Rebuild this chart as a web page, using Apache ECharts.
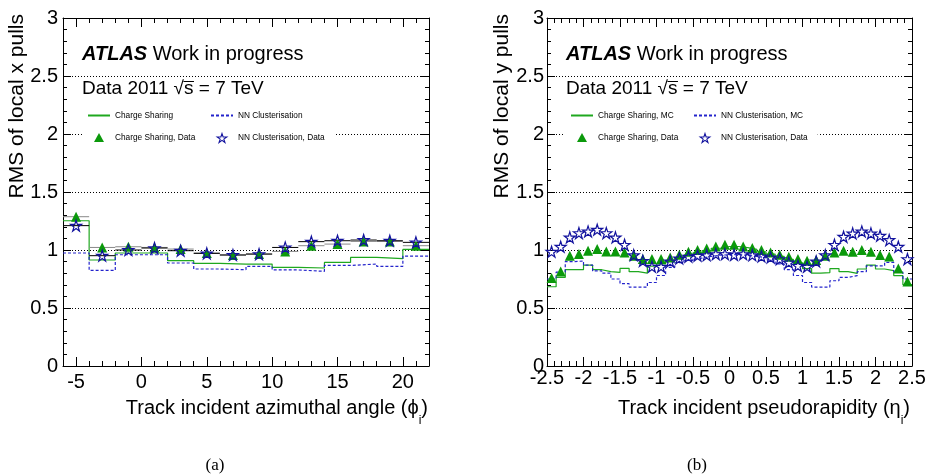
<!DOCTYPE html>
<html><head><meta charset="utf-8">
<script src="https://cdn.jsdelivr.net/npm/echarts@6/dist/echarts.min.js"></script>
<style>html,body{margin:0;padding:0;background:#fff;}#c{width:928px;height:476px;}</style>
</head><body><div id="c"></div>
<script>
// ---------- DATA ----------
// Panel (a): local x pulls vs track incident azimuthal angle
const phiCenters = [-5, -3, -1, 1, 3, 5, 7, 9, 11, 13, 15, 17, 19, 21];
const phiBinWidth = 2;
const phiMajorTicks = [-5, 0, 5, 10, 15, 20];
const phiCsMC   = [1.252, 0.914, 0.974, 0.974, 0.908, 0.885, 0.879, 0.879, 0.850, 0.845, 0.893, 0.936, 0.925, 1.005];
const phiNnMC   = [0.974, 0.824, 0.959, 0.959, 0.888, 0.836, 0.830, 0.859, 0.828, 0.816, 0.867, 0.879, 0.859, 0.948];
const phiCsData = [1.287, 1.022, 1.028, 1.022, 1.008, 0.974, 0.957, 0.965, 0.988, 1.037, 1.051, 1.074, 1.074, 1.037];
const phiNnData = [1.210, 0.951, 1.000, 1.017, 0.994, 0.971, 0.957, 0.965, 1.022, 1.072, 1.080, 1.086, 1.080, 1.066];

// Panel (b): local y pulls vs track incident pseudorapidity
const etaCenters = [-2.4375, -2.3125, -2.1875, -2.0625, -1.9375, -1.8125, -1.6875, -1.5625, -1.4375, -1.3125,
                    -1.1875, -1.0625, -0.9375, -0.8125, -0.6875, -0.5625, -0.4375, -0.3125, -0.1875, -0.0625,
                     0.0625,  0.1875,  0.3125,  0.4375,  0.5625,  0.6875,  0.8125,  0.9375,  1.0625,  1.1875,
                     1.3125,  1.4375,  1.5625,  1.6875,  1.8125,  1.9375,  2.0625,  2.1875,  2.3125,  2.4375];
const etaBinWidth = 0.125;
const etaCsMC = [0.683, 0.764, 0.830, 0.830, 0.870, 0.830, 0.813, 0.807, 0.842, 0.813,
                 0.801, 0.860, 0.880, 0.905, 0.930, 0.955, 0.975, 0.995, 1.015, 1.030,
                 1.030, 1.020, 1.005, 0.985, 0.965, 0.945, 0.920, 0.890, 0.840, 0.800,
                 0.805, 0.840, 0.813, 0.799, 0.836, 0.870, 0.836, 0.822, 0.779, 0.701];
const etaNnMC = [0.750, 0.810, 0.900, 0.905, 0.870, 0.820, 0.800, 0.750, 0.710, 0.680,
                 0.680, 0.720, 0.780, 0.850, 0.890, 0.910, 0.930, 0.945, 0.955, 0.960,
                 0.960, 0.955, 0.945, 0.935, 0.915, 0.880, 0.830, 0.780, 0.720, 0.680,
                 0.680, 0.735, 0.764, 0.779, 0.813, 0.864, 0.864, 0.893, 0.810, 0.750];
const etaCsData = [0.758, 0.815, 0.951, 0.965, 0.994, 1.008, 0.988, 0.988, 0.979, 0.951,
                   0.922, 0.922, 0.922, 0.936, 0.959, 0.985, 1.000, 1.014, 1.031, 1.045,
                   1.045, 1.031, 1.017, 1.000, 0.979, 0.959, 0.942, 0.922, 0.907, 0.913,
                   0.951, 0.979, 0.994, 0.985, 1.000, 0.985, 0.956, 0.945, 0.841, 0.729];
const etaNnData = [0.985, 1.028, 1.109, 1.146, 1.160, 1.175, 1.146, 1.109, 1.045, 0.956,
                   0.907, 0.856, 0.856, 0.902, 0.928, 0.942, 0.951, 0.956, 0.965, 0.965,
                   0.959, 0.965, 0.956, 0.945, 0.936, 0.922, 0.893, 0.864, 0.856, 0.902,
                   0.956, 1.045, 1.114, 1.143, 1.160, 1.143, 1.123, 1.086, 1.028, 0.922];

// ---------- STYLE ----------
const FONT = '"Liberation Sans", Arial, Helvetica, sans-serif';
const SERIF = '"Liberation Serif", "DejaVu Serif", serif';
const GREEN_LINE = '#1fa81f', GREEN_MK = '#0b990b', BLUE_MK = '#12129e', BLUE_LINE = '#2424cc';
const STAR = 'path://M50,2 L61.2,36.2 L97.6,36.2 L68.2,57.4 L79.4,91.6 L50,70.4 L20.6,91.6 L31.8,57.4 L2.4,36.2 L38.8,36.2 Z';
const TRI_ICON = 'path://M50,0 L100,90 L0,90 Z';

const mctx = document.createElement('canvas').getContext('2d');
function tw(text, font) { mctx.font = font; return mctx.measureText(text).width; }

function histPoints(centers, width, vals) {
  const pts = centers.map((c, i) => [c - width / 2, vals[i]]);
  pts.push([centers[centers.length - 1] + width / 2, vals[vals.length - 1]]);
  return pts;
}
function pairs(centers, vals) { return centers.map((c, i) => [c, vals[i]]); }

function stepSeries(name, xi, yi, centers, width, vals, color, dashed) {
  return { type: 'line', name, xAxisIndex: xi, yAxisIndex: yi, step: 'end', symbol: 'none',
    data: histPoints(centers, width, vals), z: 2, silent: true,
    lineStyle: { color, width: 1.2, type: dashed ? [3, 2] : 'solid', opacity: 1 },
    itemStyle: { color, opacity: 0 } };
}
function barSeries(xi, yi, centers, width, vals, color) {
  return { type: 'custom', name: '_bars', xAxisIndex: xi, yAxisIndex: yi, silent: true, z: 3,
    data: pairs(centers, vals),
    renderItem: (params, api) => {
      const x = api.value(0), v = api.value(1);
      const a = api.coord([x - width / 2, v]), b = api.coord([x + width / 2, v]);
      return { type: 'line', shape: { x1: a[0], y1: a[1], x2: b[0], y2: b[1] }, style: { stroke: color, lineWidth: 1 } };
    } };
}
function triSeries(name, xi, yi, centers, vals) {
  return { type: 'scatter', name, xAxisIndex: xi, yAxisIndex: yi, symbol: 'triangle', symbolSize: [10, 10],
    data: pairs(centers, vals), z: 4, silent: true, itemStyle: { color: GREEN_MK, opacity: 1 } };
}
function starSeries(name, xi, yi, centers, vals) {
  return { type: 'scatter', name, xAxisIndex: xi, yAxisIndex: yi, symbol: STAR, symbolSize: 11,
    data: pairs(centers, vals), z: 5, silent: true,
    itemStyle: { color: 'rgba(255,255,255,0)', borderColor: BLUE_MK, borderWidth: 1.2, opacity: 1 } };
}

const black = { color: '#000', width: 1 };
function xAxisMinor(grid, pos, min, max, withLabels, margin) {
  return { gridIndex: grid, type: 'value', position: pos, min, max, interval: 1,
    axisLine: { show: true, onZero: false, lineStyle: black },
    axisTick: { show: true, inside: true, length: 5, lineStyle: black },
    axisLabel: { show: withLabels, margin, fontSize: 20, fontFamily: FONT, color: '#000',
      formatter: v => (Math.abs(v % 5) < 1e-9 ? String(v) : '') },
    splitLine: { show: false } };
}
function xAxisMajor(grid, pos, min, max, ticks) {
  return { gridIndex: grid, type: 'value', position: pos, min, max,
    axisLine: { show: false, onZero: false },
    axisTick: { show: true, inside: true, length: 9, lineStyle: black, customValues: ticks },
    axisLabel: { show: false }, splitLine: { show: false } };
}
function xAxisEta(grid, pos, withLabels, margin) {
  return { gridIndex: grid, type: 'value', position: pos, min: -2.5, max: 2.5, interval: 0.5,
    axisLine: { show: true, onZero: false, lineStyle: black },
    axisTick: { show: true, inside: true, length: 9, lineStyle: black },
    minorTick: { show: true, splitNumber: 5, length: 5, lineStyle: black },
    axisLabel: { show: withLabels, margin, fontSize: 20, fontFamily: FONT, color: '#000',
      showMinLabel: true, showMaxLabel: true },
    splitLine: { show: false } };
}
function yAx(grid, pos, withLabels, margin) {
  return { gridIndex: grid, type: 'value', position: pos, min: 0, max: 3, interval: 0.5,
    axisLine: { show: true, onZero: false, lineStyle: black },
    axisTick: { show: true, inside: true, length: 8, lineStyle: black },
    minorTick: { show: true, splitNumber: 5, length: 4, lineStyle: black },
    axisLabel: { show: withLabels, margin, fontSize: 20, fontFamily: FONT, color: '#000' },
    splitLine: { show: withLabels, lineStyle: { color: '#000', width: 1, type: [1, 2] } } };
}

function legendCol(items, left, top, padRight) {
  return { show: true, orient: 'vertical', left, top, selectedMode: false, data: items,
    itemWidth: 22, itemHeight: 9, itemGap: 13, padding: [6, padRight, 6, 5],
    backgroundColor: '#fff', borderWidth: 0,
    textStyle: { fontSize: 8.3, fontFamily: FONT, color: '#000', lineHeight: 9 } };
}
const triLegend = name => ({ name, icon: TRI_ICON, itemStyle: { color: GREEN_MK } });
const starLegend = name => ({ name, icon: STAR,
  itemStyle: { color: 'rgba(255,255,255,0)', borderColor: BLUE_MK, borderWidth: 1.1, opacity: 1 } });

// ---------- TEXT GRAPHICS ----------
function headerTexts(x0) {
  const fB = 'italic bold 20px ' + FONT, fN = '20px ' + FONT, f2 = '19px ' + FONT;
  const wAtlas = tw('ATLAS', fB), wSp = tw(' ', fN);
  const pre = 'Data 2011 \u221A';
  const xs = x0 + tw(pre, f2), xe = xs + tw('s', f2);
  return [
    { type: 'text', x: x0, y: 54, style: { text: 'ATLAS', font: fB, fill: '#000', align: 'left', verticalAlign: 'middle' } },
    { type: 'text', x: x0 + wAtlas + wSp, y: 54, style: { text: 'Work in progress', font: fN, fill: '#000', align: 'left', verticalAlign: 'middle' } },
    { type: 'text', x: x0, y: 89, style: { text: 'Data 2011 \u221As = 7 TeV', font: f2, fill: '#000', align: 'left', verticalAlign: 'middle' } },
    { type: 'line', shape: { x1: xs - 0.5, y1: 81.5, x2: xe + 0.5, y2: 81.5 }, style: { stroke: '#000', lineWidth: 1 } }
  ];
}
function xTitle(xRight, main, sub) {
  const fM = '20px ' + FONT, fS = '12px ' + FONT;
  const xClose = xRight - tw(')', fM);
  const xSub = xClose - tw(sub, fS);
  return [
    { type: 'text', x: xSub, y: 408, style: { text: main, font: fM, fill: '#000', align: 'right', verticalAlign: 'middle' } },
    { type: 'text', x: xSub, y: 421, style: { text: sub, font: fS, fill: '#000', align: 'left', verticalAlign: 'middle' } },
    { type: 'text', x: xClose, y: 408, style: { text: ')', font: fM, fill: '#000', align: 'left', verticalAlign: 'middle' } }
  ];
}
function yTitle(x, text) {
  return { type: 'text', x, y: 14, rotation: Math.PI / 2,
    style: { text, font: '21px ' + FONT, fill: '#000', align: 'right', verticalAlign: 'middle' } };
}

const graphics = [].concat(
  headerTexts(82), headerTexts(566),
  xTitle(428, 'Track incident azimuthal angle (\u03D5', 'i'),
  xTitle(910, 'Track incident pseudorapidity (\u03B7', 'i'),
  [yTitle(17, 'RMS of local x pulls'), yTitle(502, 'RMS of local y pulls'),
   { type: 'text', x: 215, y: 466, style: { text: '(a)', font: '17px ' + SERIF, fill: '#000', align: 'center', verticalAlign: 'middle' } },
   { type: 'text', x: 697, y: 466, style: { text: '(b)', font: '17px ' + SERIF, fill: '#000', align: 'center', verticalAlign: 'middle' } }]
);

const option = {
  animation: false,
  backgroundColor: '#fff',
  grid: [
    { left: 63, top: 18, width: 366, height: 348, outerBoundsMode: 'none', containLabel: false },
    { left: 547, top: 18, width: 365, height: 348, outerBoundsMode: 'none', containLabel: false }
  ],
  xAxis: [
    xAxisMinor(0, 'bottom', -6, 22, true, 6),
    xAxisMajor(0, 'bottom', -6, 22, phiMajorTicks),
    xAxisMinor(0, 'top', -6, 22, false, 6),
    xAxisMajor(0, 'top', -6, 22, phiMajorTicks),
    xAxisEta(1, 'bottom', true, 2),
    xAxisEta(1, 'top', false, 2)
  ],
  yAxis: [
    yAx(0, 'left', true, 5),
    yAx(0, 'right', false, 5),
    yAx(1, 'left', true, 3),
    yAx(1, 'right', false, 3)
  ],
  legend: [
    legendCol(['Charge Sharing', triLegend('Charge Sharing, Data')], 82, 105, 14),
    legendCol(['NN Clusterisation', starLegend('NN Clusterisation, Data')], 205, 105, 10),
    legendCol(['Charge Sharing, MC', triLegend('Charge Sharing, Data')], 565, 105, 14),
    legendCol(['NN Clusterisation, MC', starLegend('NN Clusterisation, Data')], 688, 105, 10)
  ],
  graphic: { elements: graphics },
  series: [
    stepSeries('Charge Sharing', 0, 0, phiCenters, phiBinWidth, phiCsMC, GREEN_LINE, false),
    stepSeries('NN Clusterisation', 0, 0, phiCenters, phiBinWidth, phiNnMC, BLUE_LINE, true),
    barSeries(0, 0, phiCenters, phiBinWidth, phiCsData, '#888'),
    barSeries(0, 0, phiCenters, phiBinWidth, phiNnData, '#000'),
    triSeries('Charge Sharing, Data', 0, 0, phiCenters, phiCsData),
    starSeries('NN Clusterisation, Data', 0, 0, phiCenters, phiNnData),

    stepSeries('Charge Sharing, MC', 4, 2, etaCenters, etaBinWidth, etaCsMC, GREEN_LINE, false),
    stepSeries('NN Clusterisation, MC', 4, 2, etaCenters, etaBinWidth, etaNnMC, BLUE_LINE, true),
    triSeries('Charge Sharing, Data', 4, 2, etaCenters, etaCsData),
    starSeries('NN Clusterisation, Data', 4, 2, etaCenters, etaNnData)
  ]
};

const chart = echarts.init(document.getElementById('c'), null, { renderer: 'canvas', width: 928, height: 476 });
chart.setOption(option);
</script>
</body></html>
